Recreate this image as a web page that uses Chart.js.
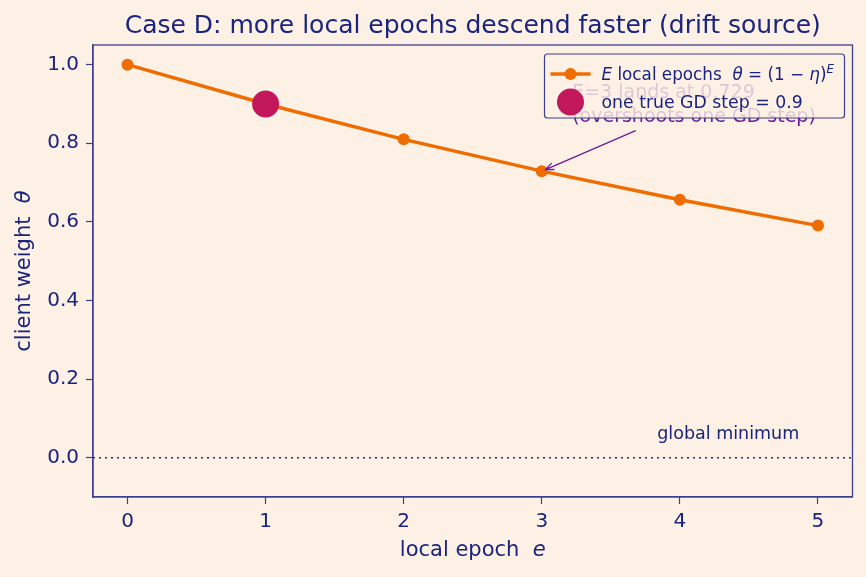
<!DOCTYPE html>
<html lang="en">
<head>
<meta charset="UTF-8">
<title>Case D: more local epochs descend faster</title>
<script src="https://cdn.jsdelivr.net/npm/chart.js"></script>
<style>
  html, body { margin: 0; padding: 0; background: #fdf1e6; }
</style>
</head>
<body>
<canvas id="chart" width="866" height="577"></canvas>
<script>
// data
const epochs = [0, 1, 2, 3, 4, 5];
const theta = [1.0, 0.9, 0.81, 0.729, 0.6561, 0.59049];
const gdEpoch = [1];
const gdTheta = [0.9];
const xTicks = [0, 1, 2, 3, 4, 5];
const yTicks = [0.0, 0.2, 0.4, 0.6, 0.8, 1.0];
const xRange = [-0.25, 5.25];
const yRange = [-0.1, 1.05];

const BG = '#fdf1e6';
const NAVY = '#1a237e';
const SPINE = '#3d3f8e';
const ORANGE = '#ef6c00';
const CRIMSON = '#c2185b';
const PURPLE = '#6a1b9a';
const FONT = '"DejaVu Sans", sans-serif';

// draw a run of text pieces, some italic / superscript
function richWidth(ctx, parts, size) {
    let w = 0;
    parts.forEach(p => {
        const s = p.sup ? size * 0.7 : size;
        ctx.font = (p.it ? 'italic ' : '') + s + 'px ' + FONT;
        w += ctx.measureText(p.t).width;
    });
    return w;
}
function drawRich(ctx, parts, x, y, size, align) {
    let w = richWidth(ctx, parts, size);
    let cx = align === 'center' ? x - w / 2 : x;
    ctx.textAlign = 'left';
    ctx.textBaseline = 'alphabetic';
    parts.forEach(p => {
        const s = p.sup ? size * 0.7 : size;
        ctx.font = (p.it ? 'italic ' : '') + s + 'px ' + FONT;
        ctx.fillText(p.t, cx, p.sup ? y - size * 0.42 : y);
        cx += ctx.measureText(p.t).width;
    });
}

const decor = {
    id: 'decor',
    beforeDraw(chart) {
        const ctx = chart.ctx;
        ctx.save();
        ctx.fillStyle = BG;
        ctx.fillRect(0, 0, chart.width, chart.height);
        ctx.restore();
    },
    afterDatasetsDraw(chart) {
        const ctx = chart.ctx;
        const a = chart.chartArea;
        const xs = chart.scales.x, ys = chart.scales.y;
        ctx.save();

        // frame
        ctx.strokeStyle = SPINE;
        ctx.lineWidth = 1.3;
        ctx.strokeRect(a.left, a.top, a.right - a.left, a.bottom - a.top);

        // annotation text
        ctx.fillStyle = PURPLE;
        ctx.font = '19px ' + FONT;
        ctx.textAlign = 'left';
        ctx.fillText('E=3 lands at 0.729', xs.getPixelForValue(3.22), ys.getPixelForValue(0.916));
        ctx.fillText('(overshoots one GD step)', xs.getPixelForValue(3.22), ys.getPixelForValue(0.855));

        // arrow to the E=3 point
        const x0 = xs.getPixelForValue(3.68), y0 = ys.getPixelForValue(0.832);
        let x1 = xs.getPixelForValue(epochs[3]), y1 = ys.getPixelForValue(theta[3]);
        const ang = Math.atan2(y1 - y0, x1 - x0);
        x1 -= Math.cos(ang) * 4; y1 -= Math.sin(ang) * 4;
        ctx.strokeStyle = PURPLE;
        ctx.lineWidth = 1.3;
        ctx.beginPath();
        ctx.moveTo(x0, y0); ctx.lineTo(x1, y1);
        ctx.moveTo(x1 - Math.cos(ang - 0.4) * 9, y1 - Math.sin(ang - 0.4) * 9);
        ctx.lineTo(x1, y1);
        ctx.lineTo(x1 - Math.cos(ang + 0.4) * 9, y1 - Math.sin(ang + 0.4) * 9);
        ctx.stroke();

        // "global minimum" label
        ctx.fillStyle = NAVY;
        ctx.font = '17.5px ' + FONT;
        ctx.textAlign = 'center';
        ctx.fillText('global minimum', xs.getPixelForValue(4.35), ys.getPixelForValue(0.048));
        ctx.restore();
    },
    afterDraw(chart) {
        const ctx = chart.ctx;
        const a = chart.chartArea;
        ctx.save();
        ctx.fillStyle = NAVY;

        // title
        ctx.font = '25px ' + FONT;
        ctx.textAlign = 'center';
        ctx.fillText('Case D: more local epochs descend faster (drift source)', (a.left + a.right) / 2, 33);

        // axis labels
        drawRich(ctx, [{t: 'local epoch  '}, {t: 'e', it: true}], (a.left + a.right) / 2, 556, 21, 'center');
        ctx.save();
        ctx.translate(30, (a.top + a.bottom) / 2);
        ctx.rotate(-Math.PI / 2);
        drawRich(ctx, [{t: 'client weight  '}, {t: 'θ', it: true}], 0, 0, 21, 'center');
        ctx.restore();

        // legend
        const lx = a.right - 308, ly = a.top + 9, lw = 300, lh = 64;
        ctx.beginPath();
        ctx.roundRect(lx, ly, lw, lh, 3);
        ctx.fillStyle = 'rgba(253,241,230,0.8)';
        ctx.fill();
        ctx.strokeStyle = SPINE;
        ctx.lineWidth = 1.2;
        ctx.stroke();

        ctx.strokeStyle = ORANGE;
        ctx.lineWidth = 3.5;
        ctx.beginPath();
        ctx.moveTo(lx + 6, ly + 20); ctx.lineTo(lx + 46, ly + 20);
        ctx.stroke();
        ctx.fillStyle = ORANGE;
        ctx.beginPath(); ctx.arc(lx + 26, ly + 20, 6, 0, Math.PI * 2); ctx.fill();
        ctx.fillStyle = CRIMSON;
        ctx.beginPath(); ctx.arc(lx + 26, ly + 48, 13.5, 0, Math.PI * 2); ctx.fill();

        ctx.fillStyle = NAVY;
        drawRich(ctx, [
            {t: 'E', it: true}, {t: ' local epochs  '}, {t: 'θ', it: true}, {t: ' = (1 − '},
            {t: 'η', it: true}, {t: ')'}, {t: 'E', it: true, sup: true}
        ], lx + 57, ly + 26, 16.8, 'left');
        drawRich(ctx, [{t: 'one true GD step = 0.9'}], lx + 57, ly + 54, 17.3, 'left');
        ctx.restore();
    }
};

const pts = (xs, ys) => xs.map((x, i) => ({x: x, y: ys[i]}));

new Chart(document.getElementById('chart'), {
    type: 'line',
    data: {
        datasets: [
            {
                label: 'one true GD step = 0.9',
                data: pts(gdEpoch, gdTheta),
                showLine: false,
                pointRadius: 13.5,
                pointBackgroundColor: CRIMSON,
                pointBorderWidth: 0,
                order: 0
            },
            {
                label: 'E local epochs',
                data: pts(epochs, theta),
                borderColor: ORANGE,
                borderWidth: 3.5,
                pointRadius: 6,
                pointBackgroundColor: ORANGE,
                pointBorderWidth: 0,
                tension: 0,
                order: 1
            },
            {
                label: 'global minimum',
                data: pts(xRange, [0, 0]),
                borderColor: '#2a2c70',
                borderWidth: 1.6,
                borderDash: [2, 4],
                pointRadius: 0,
                order: 2
            }
        ]
    },
    options: {
        responsive: false,
        animation: false,
        devicePixelRatio: 1,
        layout: { padding: { top: 45, right: 13, left: 0, bottom: 0 } },
        plugins: { legend: { display: false }, tooltip: { enabled: false } },
        scales: {
            x: {
                type: 'linear',
                min: xRange[0],
                max: xRange[1],
                afterBuildTicks: s => { s.ticks = xTicks.map(v => ({value: v})); },
                afterFit: s => { s.height = 80; },
                ticks: { color: NAVY, font: { family: FONT, size: 20 }, padding: 6, callback: v => String(v) },
                grid: { drawOnChartArea: false, tickLength: 7, tickWidth: 1.2, tickColor: SPINE },
                border: { color: SPINE, width: 1.3 }
            },
            y: {
                min: yRange[0],
                max: yRange[1],
                afterBuildTicks: s => { s.ticks = yTicks.map(v => ({value: v})); },
                afterFit: s => { s.width = 93; },
                ticks: { color: NAVY, font: { family: FONT, size: 20 }, padding: 7, callback: v => v.toFixed(1) },
                grid: { drawOnChartArea: false, tickLength: 7, tickWidth: 1.2, tickColor: SPINE },
                border: { color: SPINE, width: 1.3 }
            }
        }
    },
    plugins: [decor]
});
</script>
</body>
</html>
